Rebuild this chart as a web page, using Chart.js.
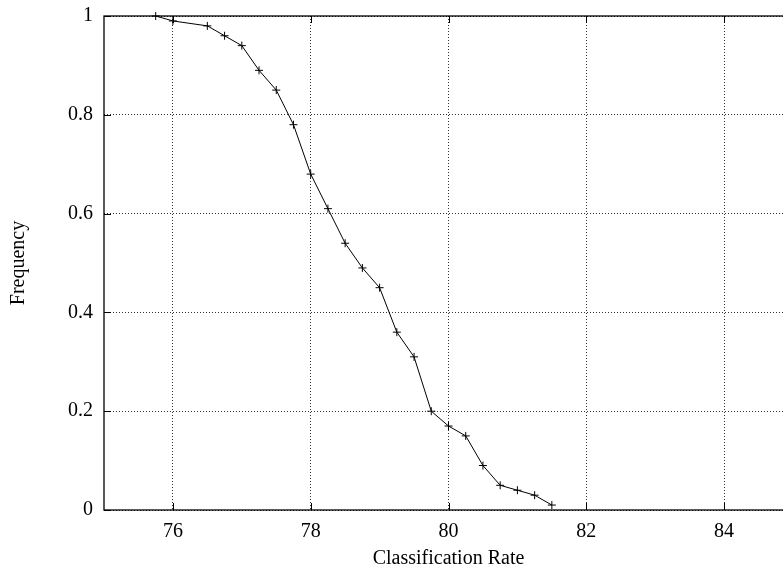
<!DOCTYPE html>
<html>
<head>
<meta charset="utf-8">
<script src="https://cdn.jsdelivr.net/npm/chart.js@4.4.1/dist/chart.umd.min.js"></script>
<style>
    html, body { margin: 0; padding: 0; background: #fff; overflow: hidden; }
    #wrap { width: 783px; height: 568px; overflow: hidden; }
</style>
</head>
<body>
<div id="wrap"><canvas id="rateChart" width="800" height="568"></canvas></div>
<script>
// Classification rate vs. frequency
const rates = [75.75, 76, 76.5, 76.75, 77, 77.25, 77.5, 77.75, 78, 78.25, 78.5, 78.75,
               79, 79.25, 79.5, 79.75, 80, 80.25, 80.5, 80.75, 81, 81.25, 81.5];
const frequency = [1.0, 0.99, 0.98, 0.96, 0.94, 0.89, 0.85, 0.78, 0.68, 0.61, 0.54, 0.49,
                   0.45, 0.36, 0.31, 0.20, 0.17, 0.15, 0.09, 0.05, 0.04, 0.03, 0.01];
const xTicks = [76, 78, 80, 82, 84];
const yTicks = [0, 0.2, 0.4, 0.6, 0.8, 1];

const FONT = '"Liberation Serif", "Times New Roman", serif';

// Solid frame plus the small inward tick marks on each side
const framePlugin = {
    id: 'framePlugin',
    beforeDatasetsDraw(chart) {
        const { ctx, chartArea: a, scales } = chart;
        ctx.save();
        ctx.strokeStyle = '#000';
        ctx.lineWidth = 1.3;
        ctx.strokeRect(a.left, a.top, a.right - a.left, a.bottom - a.top);

        ctx.lineWidth = 1;
        ctx.beginPath();
        xTicks.forEach(v => {
            const px = Math.round(scales.x.getPixelForValue(v)) + 0.5;
            ctx.moveTo(px, a.bottom);
            ctx.lineTo(px, a.bottom - 7);
            ctx.moveTo(px, a.top);
            ctx.lineTo(px, a.top + 7);
        });
        yTicks.forEach(v => {
            const py = Math.round(scales.y.getPixelForValue(v)) + 0.5;
            ctx.moveTo(a.left, py);
            ctx.lineTo(a.left + 7, py);
            ctx.moveTo(a.right, py);
            ctx.lineTo(a.right - 7, py);
        });
        ctx.stroke();
        ctx.restore();
    }
};

const ctx = document.getElementById('rateChart').getContext('2d');
const rateChart = new Chart(ctx, {
    type: 'line',
    data: {
        datasets: [{
            data: rates.map((r, i) => ({ x: r, y: frequency[i] })),
            borderColor: '#000',
            backgroundColor: '#000',
            borderWidth: 1,
            pointStyle: 'cross',
            pointRadius: 4,
            pointBorderWidth: 1,
            pointBorderColor: '#000',
            tension: 0,
            fill: false,
            clip: false
        }]
    },
    options: {
        responsive: false,
        animation: false,
        devicePixelRatio: 1,
        layout: {
            padding: { top: 16, right: 7, left: 0, bottom: 0 }
        },
        plugins: {
            legend: { display: false },
            tooltip: { enabled: false }
        },
        scales: {
            x: {
                type: 'linear',
                min: 75,
                max: 85,
                afterBuildTicks: scale => { scale.ticks = xTicks.map(v => ({ value: v })); },
                afterFit: scale => {
                    scale.height = 58;
                    scale.paddingLeft = 0;
                    scale.paddingRight = 0;
                },
                grid: { color: '#333', lineWidth: 1, drawTicks: false },
                border: { display: false, dash: [1, 2] },
                ticks: {
                    padding: 10,
                    color: '#000',
                    font: { family: FONT, size: 20 },
                    maxRotation: 0,
                    callback: v => String(v)
                },
                title: {
                    display: true,
                    text: 'Classification Rate',
                    color: '#000',
                    font: { family: FONT, size: 20 },
                    padding: { top: 0, bottom: -3 }
                }
            },
            y: {
                min: 0,
                max: 1,
                afterBuildTicks: scale => { scale.ticks = yTicks.map(v => ({ value: v })); },
                afterFit: scale => {
                    scale.width = 104;
                    scale.paddingTop = 0;
                    scale.paddingBottom = 0;
                },
                grid: { color: '#333', lineWidth: 1, drawTicks: false },
                border: { display: false, dash: [1, 2] },
                ticks: {
                    padding: 11,
                    color: '#000',
                    font: { family: FONT, size: 20 },
                    callback: v => String(v)
                },
                title: {
                    display: true,
                    text: 'Frequency',
                    color: '#000',
                    font: { family: FONT, size: 20 },
                    padding: { top: 7, bottom: 0 }
                }
            }
        }
    },
    plugins: [framePlugin]
});
</script>
</body>
</html>
